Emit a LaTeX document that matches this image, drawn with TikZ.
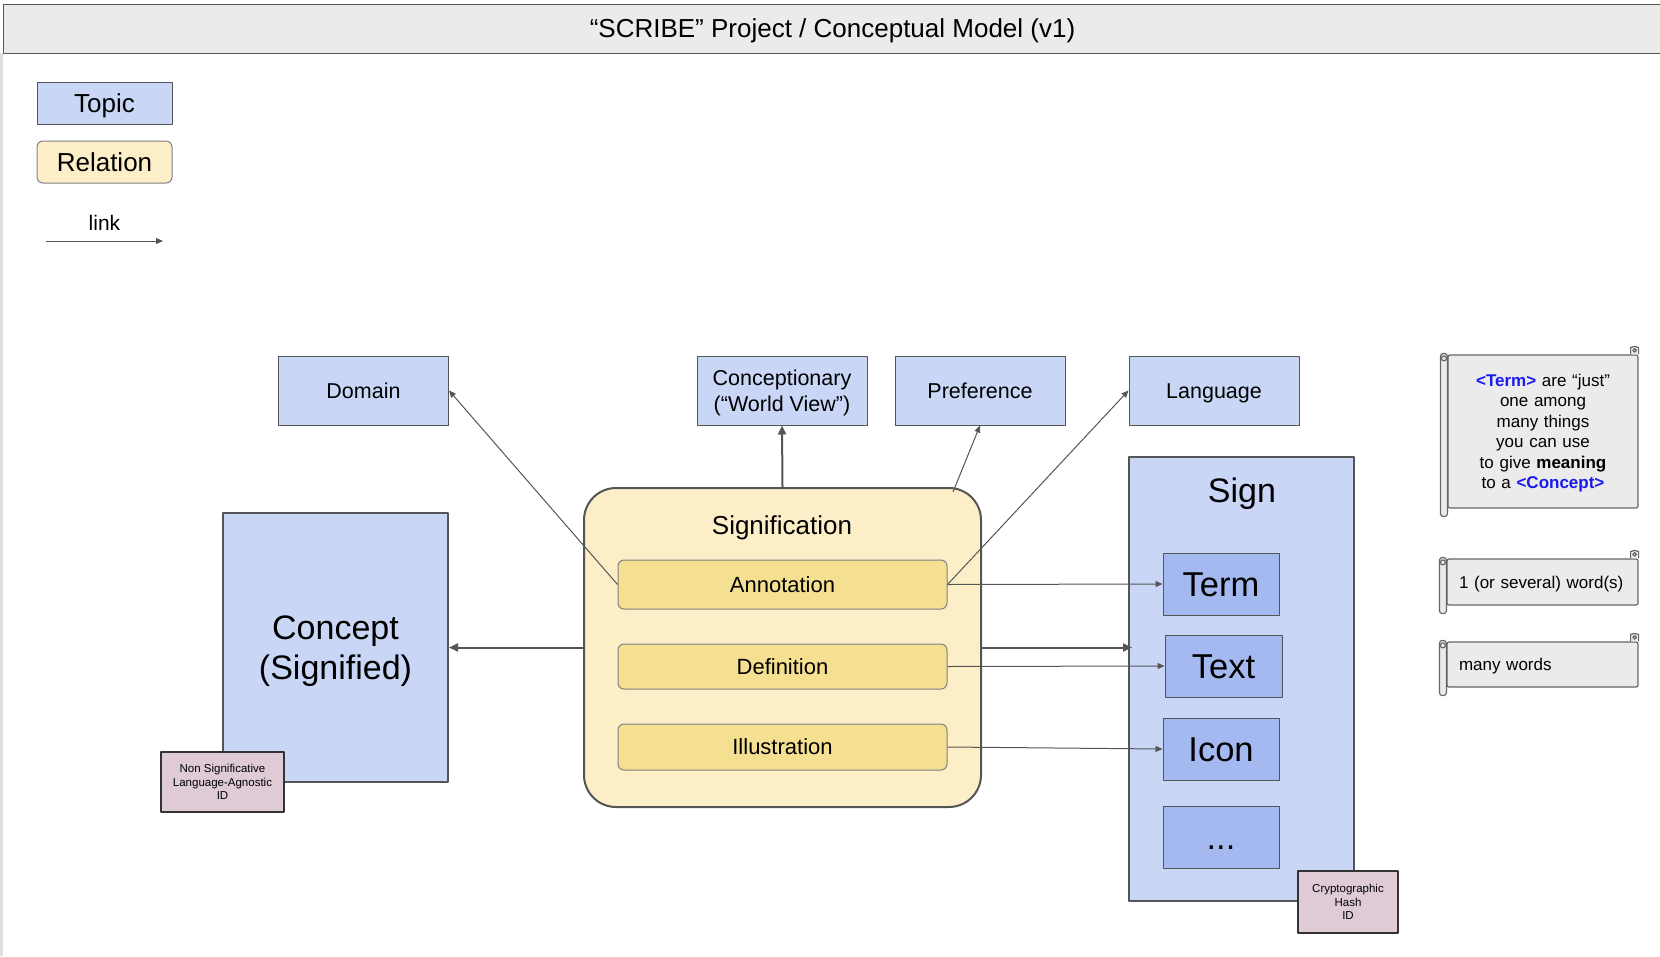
\documentclass[tikz,border=0pt]{standalone}
\usepackage{fontspec}
\setmainfont{Liberation Sans}
\usetikzlibrary{arrows.meta, positioning}
\usepackage{xcolor}
\definecolor{topicblue}{RGB}{201,214,245}
\definecolor{signblue}{RGB}{164,185,240}
\definecolor{relyellow}{RGB}{252,239,200}
\definecolor{subyellow}{RGB}{245,224,146}
\definecolor{idpink}{RGB}{223,203,213}
\definecolor{notegray}{RGB}{235,235,235}
\definecolor{edgegray}{RGB}{85,85,85}
\definecolor{termblue}{RGB}{26,26,240}

\begin{document}
\begin{tikzpicture}[x=1pt, y=-1pt, line join=round,
        titlebar/.style={draw=edgegray, fill=notegray, line width=1pt, minimum width=1659pt, minimum height=49pt, text height=18.7pt, text depth=0pt, font=\fontsize{26}{31}\selectfont},
        topic/.style={draw=edgegray, fill=topicblue, line width=1pt, inner sep=0pt, align=center, minimum width=170pt, minimum height=69pt, text height=15.5pt, text depth=0pt, font=\fontsize{21.5}{26.5}\selectfont},
        legendbox/.style={topic, minimum width=135pt, minimum height=42pt, text height=18.7pt, font=\fontsize{26}{31}\selectfont},
        bigtopic/.style={draw=edgegray, fill=topicblue, line width=2pt, inner sep=0pt, align=center, minimum width=225pt},
        signpart/.style={draw=edgegray, fill=signblue, line width=1pt, minimum width=116pt, minimum height=62pt, inner sep=0pt, text height=24.8pt, text depth=0pt, font=\fontsize{34.5}{41}\selectfont},
        relation/.style={draw=edgegray, fill=relyellow, line width=2pt, rounded corners=32pt, minimum width=397pt, minimum height=319pt},
        subrel/.style={draw=gray, fill=subyellow, line width=1pt, rounded corners=6pt, minimum width=329pt, inner sep=0pt, text height=15.8pt, text depth=0pt, font=\fontsize{22}{26}\selectfont},
        idbox/.style={draw=black!80, fill=idpink, line width=1.2pt, align=center, inner sep=0pt, text height=35.3pt, text depth=0pt, font=\fontsize{11.5}{13.5}\selectfont},
        scrollnote/.style={draw=gray!80!black, fill=notegray, line width=1.2pt, rounded corners=2pt, inner xsep=12pt, text height=12.2pt, text depth=0pt, font=\fontsize{17}{20.5}\selectfont},
        scrollroll/.style={draw=gray!80!black, fill=notegray, line width=1.2pt, rounded corners=3pt},
        linkarrow/.style={draw=edgegray, line width=1pt, -{Triangle[length=7pt,width=6pt]}},
        boldarrow/.style={draw=edgegray, line width=2pt, -{Triangle[length=9pt,width=8pt]}}
        ]
        \useasboundingbox (0,0) rectangle (1660,956);

        %% Title
        \draw[gray!25, line width=3pt] (1.5,53) -- (1.5,956);
        \node[titlebar] (title) at (832.5,28.5) {“SCRIBE” Project / Conceptual Model (v1)};

        %% Legend
        \node[legendbox] (legtopic) at (104.5,103) {Topic};
        \node[legendbox, fill=relyellow, draw=gray, rounded corners=6pt, below=16pt of legtopic] (legrelation) {Relation};
        \coordinate (linkstart) at (46,241);
        \coordinate (linkend) at (163,241);
        \draw[linkarrow] (linkstart) -- node[above=7pt, font=\fontsize{21}{25}\selectfont] (linklabel) {link} (linkend);

        %% Topics
        \node[topic] (domain) at (363.5,390.5) {Domain};
        \node[topic, text height=42pt] (worldview) at (782,390.5) {Conceptionary\\(“World View”)};
        \node[topic] (preference) at (980,390.5) {Preference};
        \node[topic] (language) at (1214,390.5) {Language};

        \node[bigtopic, minimum height=269pt, text height=64.5pt, text depth=0pt, font=\fontsize{34}{40}\selectfont] (concept) at (335.5,647.5) {Concept\\(Signified)};
        \node[idbox, minimum width=123pt, minimum height=60pt] (conceptid) at (222.5,782) {Non Significative\\Language-Agnostic\\ID};

        %% Signification
        \node[relation] (signification) at (782.5,647.5) {};
        \node[text height=18.7pt, text depth=0pt, font=\fontsize{26}{31}\selectfont] (sigtitle) at (782,525) {Signification};
        \node[subrel, minimum height=49pt] (annotation) at (782.5,584.5) {Annotation};
        \node[subrel, minimum height=45pt] (definition) at (782.5,666.5) {Definition};
        \node[subrel, minimum height=46pt] (illustration) at (782.5,747) {Illustration};

        %% Sign
        \node[bigtopic, minimum height=444pt] (sign) at (1241.5,679) {};
        \node[text height=24.5pt, text depth=0pt, font=\fontsize{34}{40}\selectfont] (signtitle) at (1242,490) {Sign};
        \node[signpart] (term) at (1221,584) {Term};
        \node[signpart, minimum width=117pt] (signtext) at (1223.5,666) {Text};
        \node[signpart] (icon) at (1221,749) {Icon};
        \node[signpart] (more) at (1221,837) {...};
        \node[idbox, minimum width=100pt, minimum height=62pt] (signid) at (1348,902) {Cryptographic\\Hash\\ID};

        %% Notes
        \node[scrollnote, text width=166pt, align=center, text depth=102.5pt, minimum height=153pt] (note1) at (1543,431.5)
            {{\color{termblue}\textbf{<Term>}} are “just”\\one among\\many things\\you can use\\to give \textbf{meaning}\\to a {\color{termblue}\textbf{<Concept>}}};
        \node[scrollnote, text width=167pt, align=left, minimum height=46pt] (note2) at (1542.5,582) {1 (or several) word(s)};
        \node[scrollnote, text width=167pt, align=left, minimum height=45pt] (note3) at (1542.5,664.5) {many words};
        \foreach \n in {note1, note2, note3} {
            \draw[scrollroll] ([xshift=-7pt, yshift=1pt]\n.north west) rectangle ([yshift=-8pt]\n.south west);
            \draw[scrollroll] ([xshift=-3.5pt, yshift=-4pt]\n.north west) circle (2.5pt);
            \draw[scrollroll] ([xshift=-8pt]\n.north east) -- ++(0,4pt) arc[start angle=180, end angle=0, radius=4pt] -- (\n.north east);
            \draw[scrollroll] ([xshift=-4pt, yshift=4pt]\n.north east) circle (1.8pt);
        }

        %% Links
        \draw[boldarrow] (signification.north) -- (worldview.south);
        \draw[linkarrow] (annotation.west) -- (domain.east);
        \draw[linkarrow] ([xshift=-29pt, yshift=-5pt]signification.north east) -- (preference.south);
        \draw[linkarrow] (annotation.east) -- (language.west);
        \draw[linkarrow] (annotation.east) -- (term.west);
        \draw[boldarrow] (signification.east) -- ([xshift=4pt]signification.east -| sign.west);
        \draw[linkarrow] (definition.east) -- (signtext.west);
        \draw[linkarrow] (illustration.east) -- (icon.west);
        \draw[boldarrow] (signification.west) -- (concept.east);
\end{tikzpicture}
\end{document}
